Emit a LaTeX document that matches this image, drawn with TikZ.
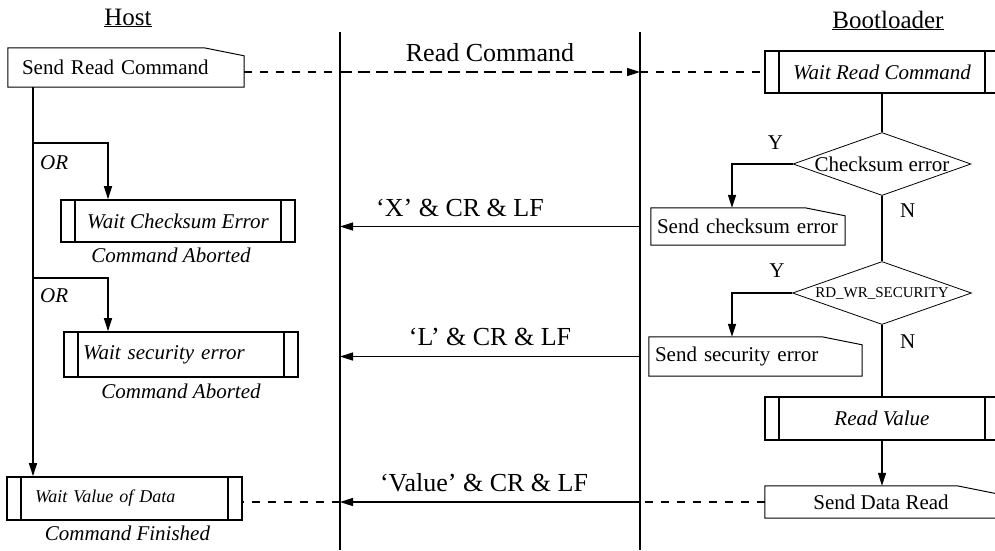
\documentclass[tikz,border=0pt]{standalone}
\usepackage{fontspec}
\setmainfont{Liberation Serif}
\usepackage{tikz}
\usetikzlibrary{arrows.meta,positioning,calc,shapes.geometric}

% outline of a "send" box: rectangle with a cut top-right corner
\newcommand\sendframe[1]{%
  \draw[line width=1pt] (#1.south west) -- (#1.north west) -- ([xshift=-40pt]#1.north east)
    -- ([yshift=-8pt]#1.north east) -- (#1.south east) -- cycle;}

\begin{document}
\begin{tikzpicture}[x=1pt,y=-1pt,>={Triangle[length=13pt,width=8pt]},
  font=\fontsize{21}{24}\selectfont,
  ital/.style={font=\fontsize{21}{24}\selectfont\itshape},
  proc/.style={draw,line width=1.6pt,inner ysep=0pt,
    path picture={\draw[line width=1.6pt]
      ([xshift=14pt]path picture bounding box.north west) -- ([xshift=14pt]path picture bounding box.south west)
      ([xshift=-14pt]path picture bounding box.north east) -- ([xshift=-14pt]path picture bounding box.south east);}},
  sendbox/.style={inner ysep=0pt,align=left},
  decide/.style={diamond,draw,line width=0.8pt,inner sep=0pt,minimum width=178pt,minimum height=63pt},
  lifeline/.style={line width=1.5pt},
  flow/.style={line width=1.5pt},
  msg/.style={line width=1.5pt,->},
  dashline/.style={line width=1.2pt,dash pattern=on 8pt off 8pt},
  msglabel/.style={font=\fontsize{26}{30}\selectfont,inner sep=0pt},
  note/.style={ital,inner sep=0pt}]
\useasboundingbox (0,0) rectangle (995,550);

% lifelines and branch guides
\coordinate (hltop) at (340,32); \coordinate (hlbot) at (340,550);
\coordinate (bltop) at (640,32); \coordinate (blbot) at (640,550);
\coordinate (or1) at (33,143); \coordinate (or2) at (33,278);
\coordinate (brx) at (108,0); \coordinate (ybr) at (732,0);

\node[anchor=base,font=\fontsize{25}{28}\selectfont] (host) at (128,25) {\underline{Host}};
\node[anchor=base,font=\fontsize{25}{28}\selectfont] (boot) at (888,28) {\underline{Bootloader}};

% host side
\node[sendbox,minimum width=236pt,minimum height=39pt,text width=208pt,inner xsep=14pt] (sendrd) at (126,67.5) {Send Read Command};
\node[proc,ital,minimum width=234pt,minimum height=42pt] (waitck) at (178,221) {Wait Checksum Error};
\node[proc,ital,minimum width=234pt,minimum height=45pt,text width=196pt,inner xsep=19pt,align=left] (waitsec) at (181,354.5) {Wait security error};
\node[proc,font=\fontsize{18}{21}\selectfont\itshape,minimum width=235pt,minimum height=43pt,text width=179pt,inner xsep=28pt,align=left] (waitval) at (124.5,498.5) {Wait Value of Data};
\node[note,below=5pt of waitck,xshift=-7pt] (abort1) {Command Aborted};
\node[note,below=6pt of waitsec] (abort2) {Command Aborted};
\node[note,below=5pt of waitval,xshift=3pt] (finish) {Command Finished};
\node[note,below right=12pt and 7pt of or1] (orlbl1) {OR};
\node[note,below right=10pt and 7pt of or2] (orlbl2) {OR};

% bootloader side
\node[proc,ital,minimum width=234pt,minimum height=42pt] (waitrd) at (882,72) {Wait Read Command};
\node[decide] (ckdec) at (882,164) {\makebox[0pt]{Checksum error}};
\node[sendbox,minimum width=194pt,minimum height=37pt,text width=182pt,inner xsep=6pt] (sendck) at (748,226.5) {Send checksum error};
\node[decide,minimum width=179pt,font=\fontsize{15}{18}\selectfont] (secdec) at (882,293) {\makebox[0pt]{RD\_WR\_SECURITY}};
\node[sendbox,minimum width=213pt,minimum height=39pt,text width=201pt,inner xsep=6pt] (sendsec) at (755.5,356.5) {Send security error};
\node[proc,ital,minimum width=234pt,minimum height=43pt] (readval) at (882,418.5) {Read Value};
\node[sendbox,align=center,minimum width=232pt,minimum height=32pt] (senddata) at (881,502) {Send Data Read};
\node[above left=11pt and 6pt of ckdec.west] (yes1) {Y};
\node[above left=12pt and 4pt of secdec.west] (yes2) {Y};

\sendframe{sendrd}
\sendframe{sendck}
\sendframe{sendsec}
\sendframe{senddata}

\draw[lifeline] (hltop) -- (hlbot);
\draw[lifeline] (bltop) -- (blbot);

% host flow
\draw[flow,->] (sendrd.south -| or1) -- (waitval.north -| or1);
\draw[flow,->] (or1) -| (waitck.north -| brx);
\draw[flow,->] (or2) -| (waitsec.north -| brx);

% bootloader flow
\draw[flow] (waitrd.south) -- (ckdec.north);
\draw[flow] (ckdec.south) -- node[pos=0.22,right=14pt] (no1) {N} (secdec.north);
\draw[flow] (secdec.south) -- node[pos=0.23,right=14pt] (no2) {N} (readval.north);
\draw[flow,->] (readval.south) -- (readval.south |- senddata.north);
\draw[flow,->] (ckdec.west) -| (sendck.north -| ybr);
\draw[flow,->] (secdec.west) -| (sendsec.north -| ybr);

% messages
\draw[dashline] (sendrd.east |- waitrd.west) -- (waitrd.west -| hltop);
\draw[msg,dash pattern=on 12pt off 6pt] (waitrd.west -| hltop) -- node[msglabel,above=10pt] (rdlbl) {Read Command} (waitrd.west -| bltop);
\draw[dashline] (waitrd.west -| bltop) -- (waitrd.west);
\draw[msg] (sendck.west -| bltop) -- node[msglabel,pos=0.6,above=9pt] (xlbl) {‘X’ \& CR \& LF} (sendck.west -| hltop);
\draw[msg] (sendsec.west -| bltop) -- node[msglabel,above=10pt] (llbl) {‘L’ \& CR \& LF} (sendsec.west -| hltop);
\draw[dashline] (senddata.west) -- (senddata.west -| bltop);
\draw[msg] (senddata.west -| bltop) -- node[msglabel,pos=0.52,above=9pt] (vlbl) {‘Value’ \& CR \& LF} (senddata.west -| hltop);
\draw[dashline] (senddata.west -| hltop) -- (waitval.east |- senddata.west);
\end{tikzpicture}
\end{document}
